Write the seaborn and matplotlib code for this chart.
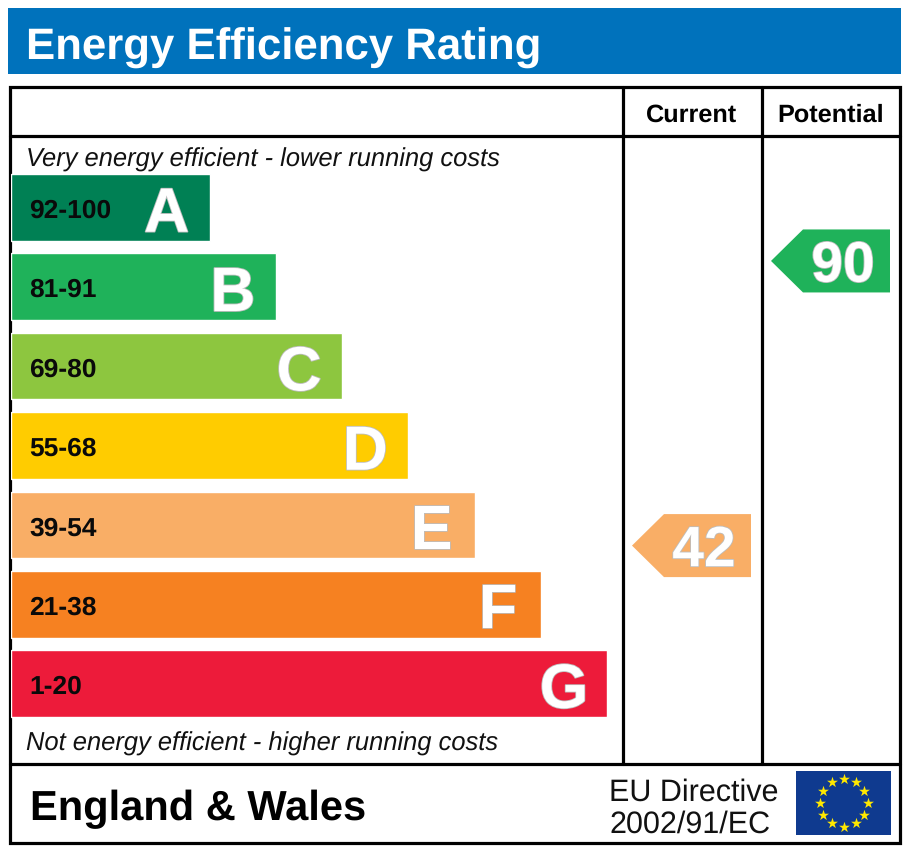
"""
Energy Efficiency Rating label, redrawn with seaborn bars and arrow markers.
"""
import numpy as np
import matplotlib.pyplot as plt
import matplotlib.patheffects as pe
from matplotlib.path import Path
from matplotlib.patches import Rectangle
import seaborn as sns

# --- data -------------------------------------------------------------
letters = ["A", "B", "C", "D", "E", "F", "G"]
score_ranges = ["92-100", "81-91", "69-80", "55-68", "39-54", "21-38", "1-20"]
bar_lengths = [3, 4, 5, 6, 7, 8, 9]
bar_colors = ["#008054", "#1fb25a", "#8dc63f", "#ffcc00", "#f9ae66", "#f68121", "#ed1b3a"]

columns = ["Current", "Potential"]
ratings = [42, 90]
rating_colors = ["#f9ae66", "#1fb25a"]

W, H = 907, 853


def px_axes(fig, left, top, right, bottom, **kw):
    """Axes placed with image pixel edges (y measured from the top)."""
    return fig.add_axes([left / W, 1 - bottom / H, (right - left) / W, (bottom - top) / H], **kw)


sns.set_theme(style="white")
plt.rcParams["font.family"] = ["Liberation Sans", "DejaVu Sans"]
plt.rcParams["text.hinting"] = "no_hinting"
fig = plt.figure(figsize=(W / 100, H / 100), dpi=100, facecolor="white")

# layout layer: banner, frame, captions, all in pixel units
frame = px_axes(fig, 0, 0, W, H)
frame.set_xlim(0, W)
frame.set_ylim(H, 0)
frame.axis("off")

frame.add_patch(Rectangle((8, 9), 893, 66, fc="#0072bc", ec="none"))
frame.text(26, 44, "Energy Efficiency Rating", color="white", fontsize=31.5, fontweight="bold", va="center_baseline")

lw = 2.3
frame.add_patch(Rectangle((10, 88), 890, 756, fc="none", ec="black", lw=lw))
frame.plot([10, 900], [137, 137], color="black", lw=lw)
frame.plot([10, 900], [765, 765], color="black", lw=lw)
frame.plot([622.5, 622.5], [88, 765], color="black", lw=lw)
frame.plot([761.5, 761.5], [88, 765], color="black", lw=lw)

frame.text(691.5, 113, columns[0], fontsize=18.2, fontweight="bold", ha="center", va="center_baseline", color="black")
frame.text(831, 113, columns[1], fontsize=18.2, fontweight="bold", ha="center", va="center_baseline", color="black")

frame.text(26, 157, "Very energy efficient - lower running costs", fontsize=18.4, style="italic",
           va="center_baseline", color="#111111")
frame.text(26, 741, "Not energy efficient - higher running costs", fontsize=18.4, style="italic",
           va="center_baseline", color="#111111")

frame.text(30, 805, "England & Wales", fontsize=30, fontweight="bold", va="center_baseline", color="black")
frame.text(609, 789, "EU Directive", fontsize=22, va="center_baseline", color="#111111")
frame.text(609, 821, "2002/91/EC", fontsize=22, va="center_baseline", color="#111111")

# EU flag
frame.add_patch(Rectangle((796, 772), 95, 64, fc="#0f3a8f", ec="none"))
angles = np.deg2rad(np.arange(0, 360, 30))
frame.scatter(843.5 + 24 * np.cos(angles), 803.5 + 24 * np.sin(angles), marker="*", s=68, color="#ffe800",
              linewidths=0)

# rating bars
ax = px_axes(fig, 11, 168.8, 607, 724.2)
sns.barplot(x=bar_lengths, y=letters, hue=letters, palette=bar_colors, saturation=1, width=0.84,
            legend=False, ax=ax)
ax.set_xlim(0, 9)
ax.set_ylim(6.5, -0.5)
ax.axis("off")
ax.patch.set_alpha(0)

halo = [pe.withStroke(linewidth=1.2, foreground="#bdbdbd")]
for i, (letter, rng, length) in enumerate(zip(letters, score_ranges, bar_lengths)):
    ax.annotate(rng, (0, i), xytext=(13, 0), textcoords="offset points", fontsize=19, fontweight="bold",
                va="center_baseline", color="#0a0a0a")
    t = ax.annotate(letter, (length, i), xytext=(-31, -1), textcoords="offset points", fontsize=45,
                    fontweight="bold", ha="center", va="center_baseline", color="white")
    t.set_path_effects(halo)

# arrows for current and potential ratings
arrow = Path([(-59.5, 0), (-27.5, 31.5), (59.5, 31.5), (59.5, -31.5), (-27.5, -31.5), (-59.5, 0)], closed=True)

rate_ax = px_axes(fig, 622, 137, 900, 765)
rate_ax.patch.set_alpha(0)
sns.scatterplot(x=columns, y=ratings, hue=columns, palette=rating_colors, marker=arrow, s=(119 * 0.72) ** 2,
                linewidth=0, legend=False, ax=rate_ax)
rate_ax.set_xlim(-0.5, 1.5)
rate_ax.set_ylim(5.17, 111.07)
rate_ax.axis("off")
for i, value in enumerate(ratings):
    t = rate_ax.annotate(str(value), (i, value), xytext=(9, 0), textcoords="offset points", fontsize=41,
                         fontweight="bold", ha="center", va="center_baseline", color="white")
    t.set_path_effects(halo)

fig.savefig("out.png", dpi=100)
